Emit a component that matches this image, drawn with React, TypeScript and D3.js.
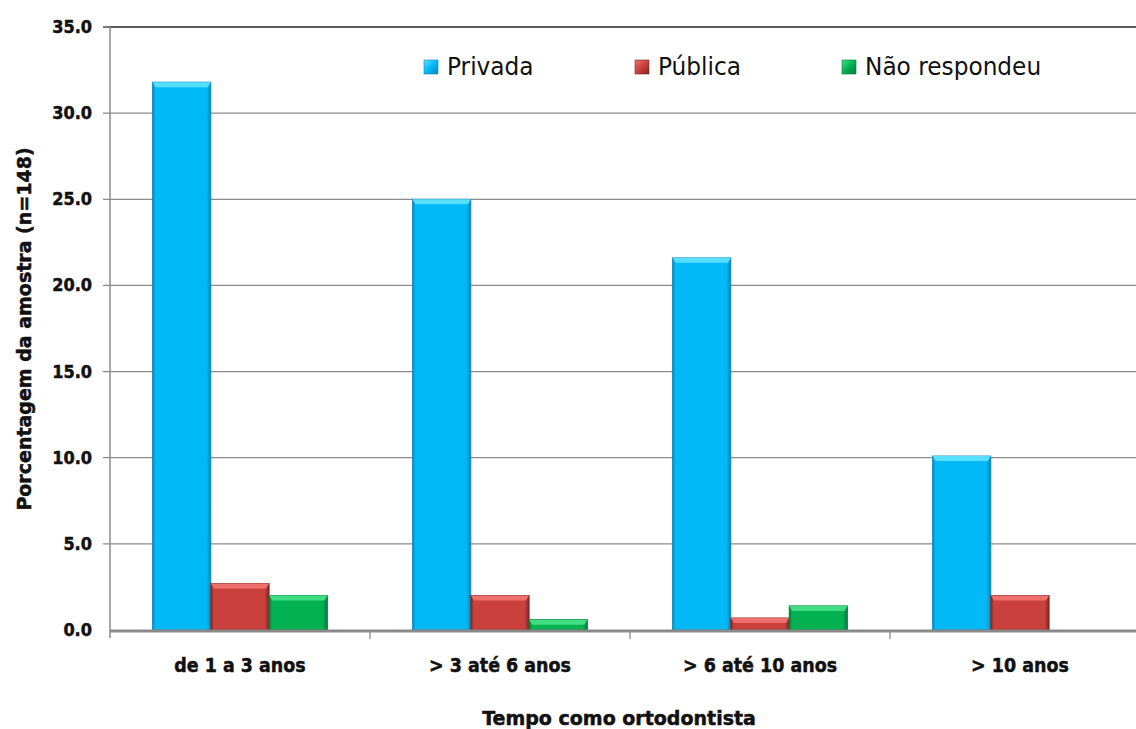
import React from "react";
import * as d3 from "d3";

const categories = ["de 1 a 3 anos", "> 3 até 6 anos", "> 6 até 10 anos", "> 10 anos"];
const seriesNames = ["Privada", "Pública", "Não respondeu"];
const privada = [31.8, 25.0, 21.6, 10.1];
const publica = [2.7, 2.0, 0.7, 2.0];
const naoRespondeu = [2.0, 0.6, 1.4, 0];
const yTicks = [0, 5, 10, 15, 20, 25, 30, 35];
const yLabel = "Porcentagem da amostra (n=148)";
const xLabel = "Tempo como ortodontista";

const seriesValues = [privada, publica, naoRespondeu];
const palette = [
  { main: "#02b9f7", light: "#62e3ff", dark: "#0a86b8" },
  { main: "#c9403c", light: "#f27470", dark: "#7e2623" },
  { main: "#03b153", light: "#46e38a", dark: "#05793a" },
];

const W = 1136;
const H = 729;
const left = 110;
const right = 1150;
const top = 27;
const bottom = 630;

export default function App() {
  const x0 = d3.scaleBand<string>().domain(categories).range([left, right]).padding(0);
  const x1 = d3
    .scaleBand<string>()
    .domain(seriesNames)
    .range([0, x0.bandwidth()])
    .paddingInner(0)
    .paddingOuter(0.73);
  const y = d3.scaleLinear().domain([0, 35]).range([bottom, top]);
  const fmt = d3.format(".1f");

  const legendX = [424, 635, 842];

  return (
    <svg
      width={W}
      height={H}
      style={{ position: "absolute", left: 0, top: 0, background: "#fff" }}
    >
      <defs>
        {palette.map((p, i) => (
          <linearGradient key={i} id={`gh${i}`} x1="0" x2="1" y1="0" y2="0">
            <stop offset="0" stopColor={p.dark} />
            <stop offset="0.05" stopColor={p.main} />
            <stop offset="0.92" stopColor={p.main} />
            <stop offset="1" stopColor={p.dark} />
          </linearGradient>
        ))}
        {palette.map((p, i) => (
          <linearGradient key={i} id={`gl${i}`} x1="0" x2="1" y1="0" y2="1">
            <stop offset="0" stopColor={p.light} />
            <stop offset="0.5" stopColor={p.main} />
            <stop offset="1" stopColor={p.dark} />
          </linearGradient>
        ))}
      </defs>

      {/* gridlines */}
      {yTicks.map((t) => (
        <line
          key={t}
          x1={left - 7}
          x2={W}
          y1={y(t)}
          y2={y(t)}
          stroke={t === 35 ? "#222" : "#8a8a8a"}
          strokeWidth={t === 0 ? 0 : 1.3}
        />
      ))}
      <line x1={left - 7} x2={left} y1={y(35)} y2={y(35)} stroke="#8a8a8a" strokeWidth={1.3} />
      {/* y axis */}
      <line x1={left} x2={left} y1={top} y2={bottom + 8} stroke="#8a8a8a" strokeWidth={1.5} />

      {/* bars */}
      {categories.map((c, ci) =>
        seriesNames.map((s, si) => {
          const v = seriesValues[si][ci];
          if (!v) return null;
          const bx = (x0(c) as number) + (x1(s) as number);
          const bw = x1.bandwidth();
          const by = y(v);
          const bh = y(0) - y(v);
          const p = palette[si];
          const cap = Math.min(5, bh / 2);
          return (
            <g key={`${ci}-${si}`}>
              <rect x={bx} y={by} width={bw} height={bh} fill={`url(#gh${si})`} stroke={p.dark} strokeWidth={0.8} />
              <polygon
                points={`${bx},${by} ${bx + bw},${by} ${bx + bw - 3},${by + cap} ${bx + 3},${by + cap}`}
                fill={p.light}
                opacity={0.9}
              />
            </g>
          );
        })
      )}

      {/* x axis */}
      <line x1={left} x2={W} y1={bottom + 1} y2={bottom + 1} stroke="#8a8a8a" strokeWidth={3} />
      {categories.slice(1).map((c) => (
        <line
          key={c}
          x1={x0(c) as number}
          x2={x0(c) as number}
          y1={bottom + 2}
          y2={bottom + 9}
          stroke="#8a8a8a"
          strokeWidth={1.3}
        />
      ))}

      {/* y tick labels */}
      {yTicks.map((t) => (
        <text
          key={t}
          transform={`translate(92,${y(t) + 6}) scale(0.95,1)`}
          textAnchor="end"
          fontFamily="DejaVu Sans"
          fontWeight="bold"
          fontSize={17}
          fill="#111"
          stroke="#111"
          strokeWidth={0.5}
        >
          {fmt(t)}
        </text>
      ))}

      {/* x tick labels */}
      {categories.map((c) => (
        <text
          key={c}
          transform={`translate(${(x0(c) as number) + x0.bandwidth() / 2},672) scale(0.92,1)`}
          textAnchor="middle"
          fontFamily="DejaVu Sans"
          fontWeight="bold"
          fontSize={19}
          fill="#111"
          stroke="#111"
          strokeWidth={0.5}
        >
          {c}
        </text>
      ))}

      {/* axis titles */}
      <text
        transform="translate(619,725)"
        textAnchor="middle"
        fontFamily="DejaVu Sans"
        fontWeight="bold"
        fontSize={19}
        fill="#111"
        stroke="#111"
        strokeWidth={0.5}
      >
        {xLabel}
      </text>
      <text
        transform="translate(31,329) rotate(-90)"
        textAnchor="middle"
        fontFamily="DejaVu Sans"
        fontWeight="bold"
        fontSize={19}
        fill="#111"
        stroke="#111"
        strokeWidth={0.5}
      >
        {yLabel}
      </text>

      {/* legend */}
      {seriesNames.map((s, i) => (
        <g key={s}>
          <rect x={legendX[i]} y={60} width={14} height={14} fill={`url(#gl${i})`} stroke={palette[i].dark} strokeWidth={0.6} />
          <text
            transform={`translate(${legendX[i] + 23},75) scale(0.93,1)`}
            fontFamily="DejaVu Sans"
            fontSize={25}
            fill="#111"
          >
            {s}
          </text>
        </g>
      ))}
    </svg>
  );
}
